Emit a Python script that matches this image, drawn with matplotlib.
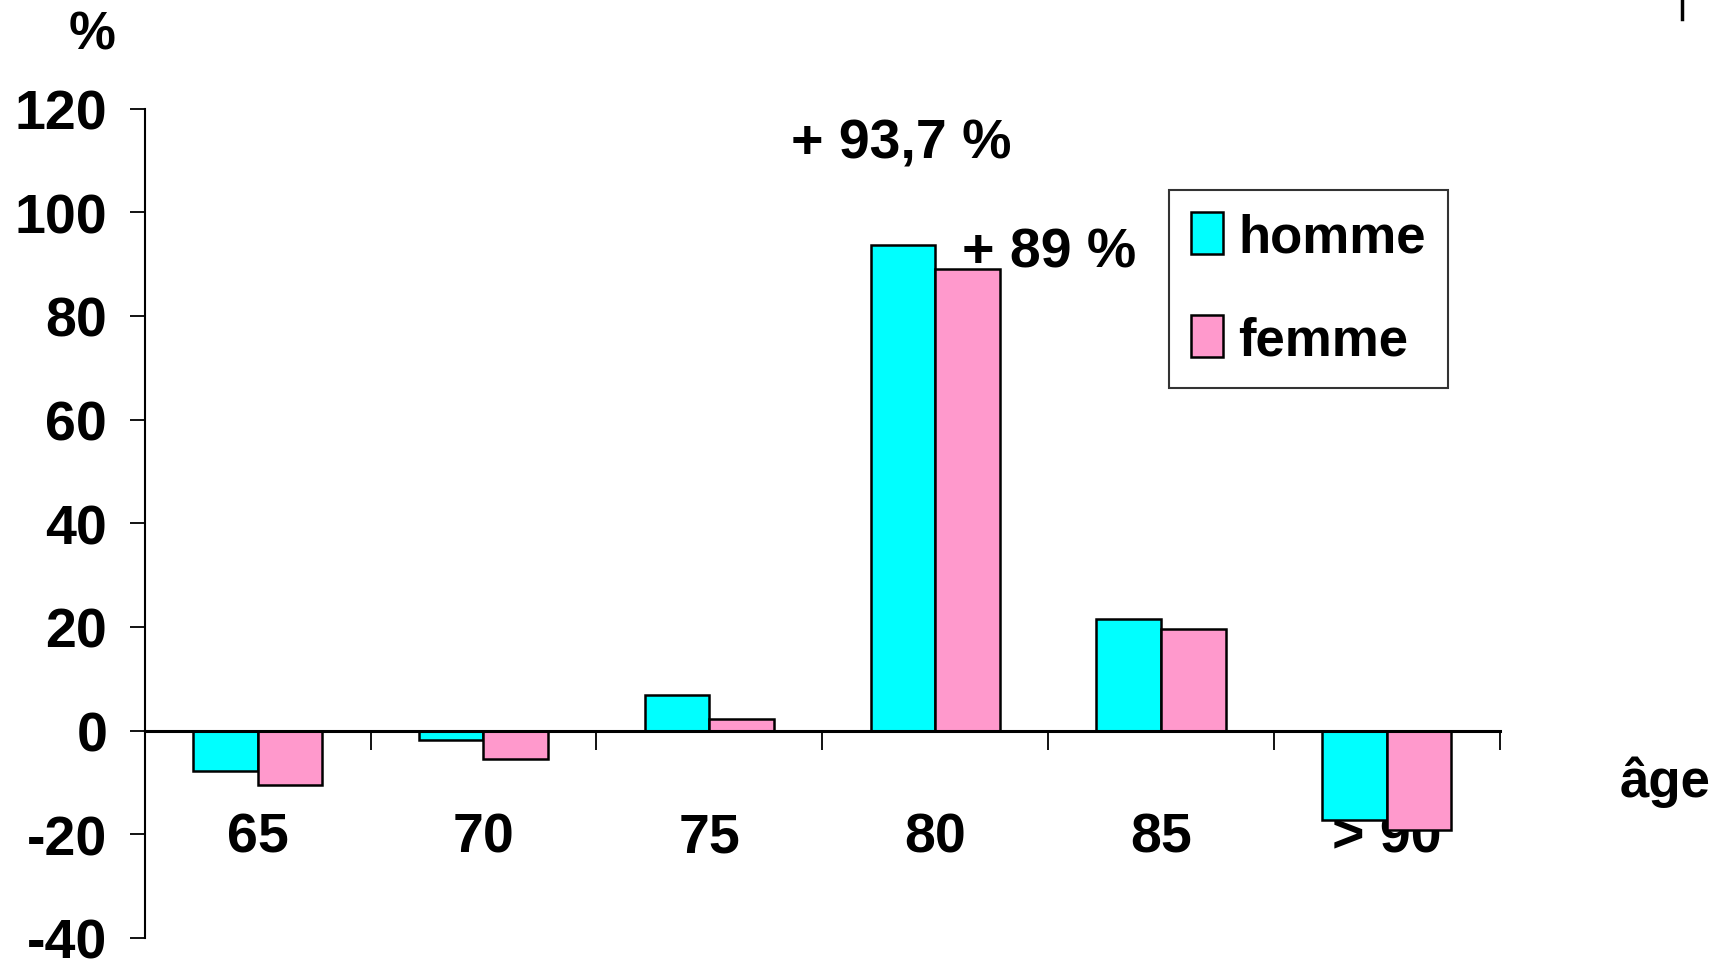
import matplotlib
matplotlib.use("Agg")
import matplotlib.pyplot as plt
from matplotlib.lines import Line2D
import numpy as np

plt.rcParams['font.family'] = ['Liberation Sans', 'DejaVu Sans']
plt.rcParams['font.weight'] = 'bold'
plt.rcParams['axes.unicode_minus'] = False

categories = ["65", "70", "75", "80", "85", "> 90"]
homme = [-7.8, -1.9, 6.8, 93.7, 21.5, -17.3]
femme = [-10.5, -5.5, 2.3, 89.0, 19.6, -19.1]
yticks = [-40, -20, 0, 20, 40, 60, 80, 100, 120]
series_names = ["homme", "femme"]
colors = ["#00FFFF", "#FF99CC"]

fig = plt.figure(figsize=(17.18, 9.62), dpi=100)
ax = fig.add_axes([0.0842, 0.024, 0.873 - 0.0842, 0.886 - 0.024])

x = np.arange(len(categories))
w = 0.286
ax.bar(x - w / 2, homme, w, color=colors[0], edgecolor="black", linewidth=1.8, label=series_names[0], zorder=3)
ax.bar(x + w / 2, femme, w, color=colors[1], edgecolor="black", linewidth=1.8, label=series_names[1], zorder=3)

ax.set_xlim(-0.5, len(categories) - 0.5)
ax.set_ylim(-40, 120)

ax.spines['top'].set_visible(False)
ax.spines['right'].set_visible(False)
ax.spines['bottom'].set_position(('data', 0))
ax.spines['bottom'].set_linewidth(2.2)
ax.spines['left'].set_linewidth(1.5)
ax.spines['bottom'].set_zorder(4)

ax.set_yticks(yticks)
ax.set_yticklabels([str(v) for v in yticks], fontsize=40, fontweight='bold')
ax.tick_params(axis='y', length=11, width=1.3, pad=16)

ax.set_xticks(np.arange(0.5, len(categories), 1.0))
ax.set_xticklabels([])
ax.tick_params(axis='x', which='major', length=14, width=1.3, direction='out')
ax.set_xticks(x, categories, minor=True)
ax.tick_params(axis='x', which='minor', length=0, pad=58, labelsize=40)
for lab in ax.get_xticklabels(minor=True):
    lab.set_fontweight('bold')

fig.text(92 / 1718, 1 - 35 / 962, "%", fontsize=38, fontweight='bold', ha='center', va='center')
fig.text(1665 / 1718, 1 - 782 / 962, "âge", fontsize=38, fontweight='bold', ha='center', va='center')
ax.text(2.85, 113.3, "+ 93,7 %", fontsize=40, fontweight='bold', ha='center', va='center')
ax.text(3.12, 92.2, "+ 89 %", fontsize=40, fontweight='bold', ha='left', va='center')

leg = ax.legend(loc='upper left', bbox_to_anchor=((1169 - 144.6) / (1500 - 144.6), (939 - 191) / (939 - 109.6)),
                fontsize=38, frameon=True, fancybox=False, edgecolor='black',
                handlelength=0.6, handleheight=0.85, handletextpad=0.3, borderpad=0.42,
                labelspacing=1.0, borderaxespad=0)
leg.get_frame().set_linewidth(1.5)
for t in leg.get_texts():
    t.set_fontweight('bold')

fig.add_artist(Line2D([1682 / 1718, 1682 / 1718], [1, 1 - 20 / 962], color='black', linewidth=2.5))

fig.savefig("out.png", dpi=100)
